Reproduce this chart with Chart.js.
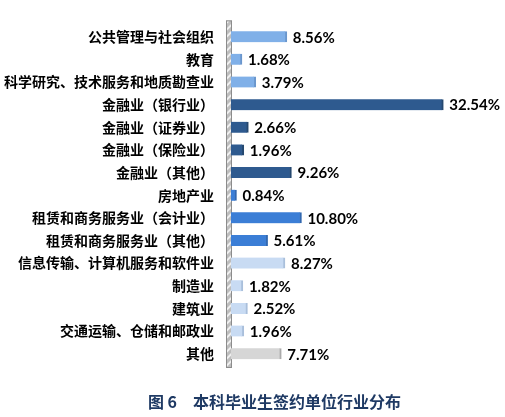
<!DOCTYPE html>
<html><head><meta charset="utf-8">
<script src="https://cdn.jsdelivr.net/npm/chart.js@4.4.1/dist/chart.umd.min.js"></script>
<style>html,body{margin:0;padding:0;background:#fff;}#wrap{width:505px;height:417px;}</style>
</head><body><div id="wrap"><canvas id="c"></canvas></div>
<script>
const categories = ['公共管理与社会组织','教育','科学研究、技术服务和地质勘查业','金融业（银行业）','金融业（证券业）','金融业（保险业）','金融业（其他）','房地产业','租赁和商务服务业（会计业）','租赁和商务服务业（其他）','信息传输、计算机服务和软件业','制造业','建筑业','交通运输、仓储和邮政业','其他'];
const values = [8.56,1.68,3.79,32.54,2.66,1.96,9.26,0.84,10.80,5.61,8.27,1.82,2.52,1.96,7.71];
const valueLabels = ['8.56%','1.68%','3.79%','32.54%','2.66%','1.96%','9.26%','0.84%','10.80%','5.61%','8.27%','1.82%','2.52%','1.96%','7.71%'];
const groups = [0,0,0,1,1,1,1,2,2,2,3,3,3,3,4];
const fillColors = ['#80b0e8','#2e5a8f','#3b7ed6','#c8dbf3','#d6d6d6'];
const edgeColors = ['#6a96cc','#25486f','#3268b0','#a9bfdb','#aaaaaa'];
const titleText = '图 6　本科毕业生签约单位行业分布';

const wallPlugin = {
  id:'wall',
  beforeDatasetsDraw(chart){
    const {ctx, chartArea:a} = chart;
    const x0 = a.left-5, w = 6, y0 = a.top-5, y1 = a.bottom+3;
    ctx.save();
    ctx.fillStyle = '#bdbdbd';
    ctx.fillRect(x0, y0, w, y1-y0);
    ctx.beginPath(); ctx.rect(x0, y0, w, y1-y0); ctx.clip();
    ctx.strokeStyle = '#f0f0f0'; ctx.lineWidth = 2;
    for(let y=y0-10; y<y1+10; y+=7){ ctx.beginPath(); ctx.moveTo(x0, y+6); ctx.lineTo(x0+w, y); ctx.stroke(); }
    ctx.restore();
    ctx.save();
    ctx.strokeStyle = '#8c8c8c'; ctx.lineWidth = 1;
    ctx.strokeRect(x0+0.5, y0+0.5, w-1, y1-y0-1);
    ctx.restore();
  },
  afterDatasetsDraw(chart){
    const {ctx} = chart;
    const meta = chart.getDatasetMeta(0);
    ctx.save();
    ctx.font = 'bold 15px Lato, "Liberation Sans", sans-serif';
    ctx.fillStyle = '#000'; ctx.textAlign='left'; ctx.textBaseline='middle';
    meta.data.forEach((bar,i)=>{ ctx.fillText(valueLabels[i], bar.x+6, bar.y+1); });
    ctx.font = 'bold 16px "Noto Sans CJK SC", sans-serif';
    ctx.fillStyle = '#1f3a64'; ctx.textAlign='center';
    ctx.fillText(titleText, chart.width/2+22, 402);
    ctx.restore();
  }
};

new Chart(document.getElementById('c'), {
  type:'bar',
  data:{ labels: categories, datasets:[{
    data: values,
    backgroundColor: groups.map(g=>fillColors[g]),
    borderColor: groups.map(g=>edgeColors[g]),
    borderWidth: {top:0,bottom:0,left:0,right:2},
    borderSkipped:'left',
    barThickness: 11
  }]},
  options:{
    indexAxis:'y', responsive:true, maintainAspectRatio:false, animation:false,
    layout:{padding:{top:23,bottom:52,right:13,left:0}},
    plugins:{legend:{display:false}, tooltip:{enabled:false}, title:{display:false}},
    scales:{
      x:{display:false, min:0, max:40},
      y:{
        afterFit(s){ s.width = 231; },
        grid:{display:false, drawTicks:false}, border:{display:false},
        ticks:{padding:17, color:'#000', font:{family:'"Noto Sans CJK SC", sans-serif', size:14, weight:'bold'}}
      }
    }
  },
  plugins:[wallPlugin]
});
</script></body></html>
